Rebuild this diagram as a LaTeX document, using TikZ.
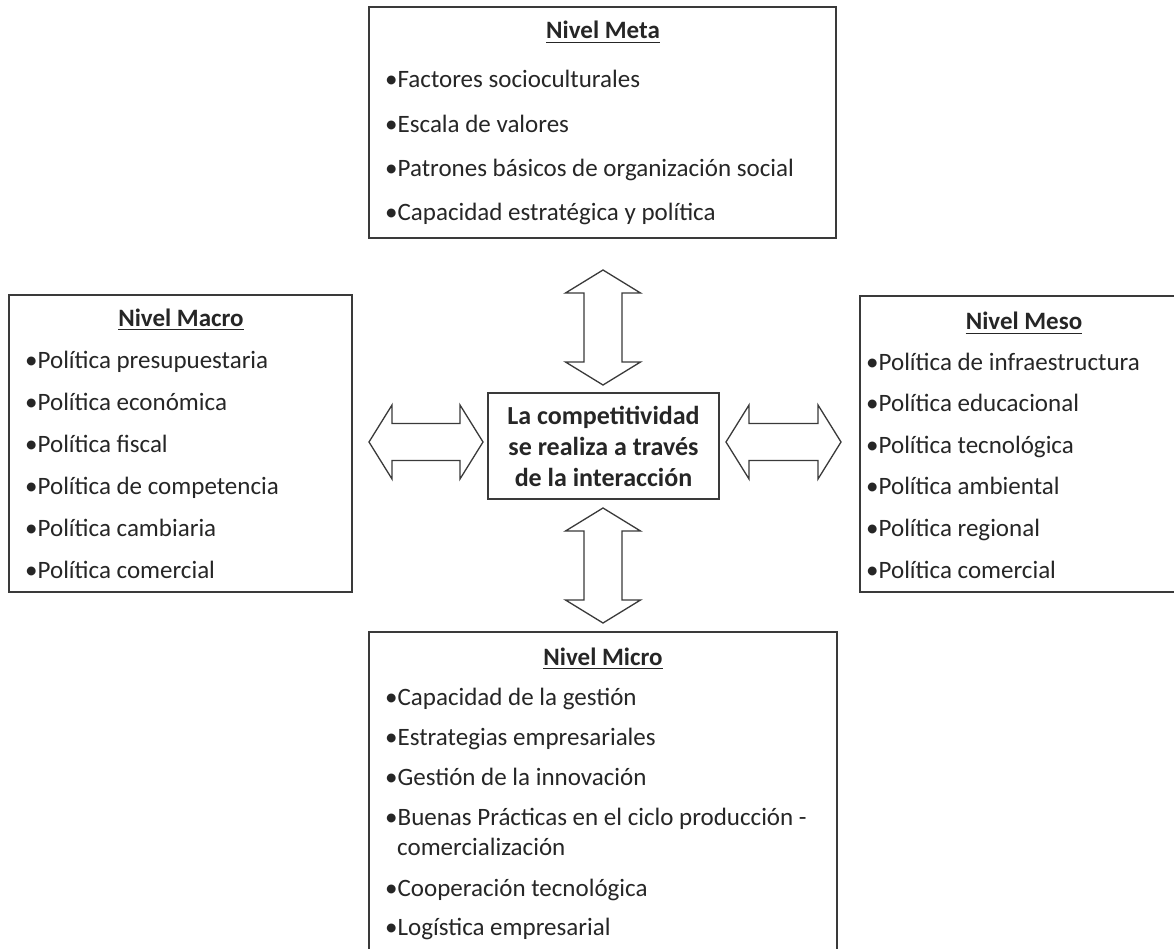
\documentclass[tikz,border=0pt]{standalone}
\usepackage{fontspec}
\setmainfont{Carlito}
\definecolor{ink}{HTML}{262626}
\definecolor{edge}{HTML}{3A3A3A}
% vertical double block arrow: centre x, top tip y, bottom tip y
\newcommand\vblock[3]{%
  \draw[blockarrow] (#1,#2) -- (#1+37.5,#2+23) -- (#1+19,#2+23) -- (#1+19,#3-23)
    -- (#1+37.5,#3-23) -- (#1,#3) -- (#1-37.5,#3-23) -- (#1-19,#3-23)
    -- (#1-19,#2+23) -- (#1-37.5,#2+23) -- cycle;}
% horizontal double block arrow: centre y, left tip x, right tip x
\newcommand\hblock[3]{%
  \draw[blockarrow] (#2,#1) -- (#2+23,#1-37) -- (#2+23,#1-18.5) -- (#3-23,#1-18.5)
    -- (#3-23,#1-37) -- (#3,#1) -- (#3-23,#1+37) -- (#3-23,#1+18.5)
    -- (#2+23,#1+18.5) -- (#2+23,#1+37) -- cycle;}
\begin{document}
\begin{tikzpicture}[x=1pt,y=-1pt,
  box/.style={draw=edge, line width=1.6pt, rectangle, inner sep=0pt},
  item/.style={anchor=base west, inner sep=0pt, text=ink, font=\fontsize{25}{30}\selectfont},
  head/.style={anchor=base, inner sep=0pt, text=ink, font=\fontsize{25}{30}\selectfont\bfseries},
  uline/.style={draw=ink, line width=1.6pt},
  blockarrow/.style={draw=edge, line width=1.3pt, line join=miter, fill=white}]
\useasboundingbox (0,0) rectangle (1174,949);
\clip (0,0) rectangle (1174,949);
\fill[white] (0,0) rectangle (1174,949);

% frames
\node[box, minimum width=467pt, minimum height=231pt] (meta)  at (602.5,122.5) {};
\node[box, minimum width=343pt, minimum height=297pt] (macro) at (180.5,443.5) {};
\node[box, minimum width=328pt, minimum height=296pt] (meso)  at (1024,444) {};
\node[box, minimum width=468pt, minimum height=368pt] (micro) at (603,816) {};
\node[box, minimum width=231pt, minimum height=106pt, align=center, text=ink,
      font=\fontsize{26}{31}\selectfont\bfseries] (core) at (603.5,446)
      {La competitividad\\se realiza a través\\de la interacción};

% interaction arrows
\vblock{603}{270}{385}
\vblock{603}{508}{623}
\hblock{442}{369}{483}
\hblock{442}{726}{841}

% Nivel Meta
\node[head] (metaT) at (603,39) {Nivel Meta};
\draw[uline] ([yshift=-3.5pt]metaT.base west) -- ([yshift=-3.5pt]metaT.base east);
\foreach \t [count=\i from 0] in {Factores socioculturales, Escala de valores,
    Patrones básicos de organización social, Capacidad estratégica y política}
  \node[item] (meta\i) at (385,88+44.3*\i) {•\t};

% Nivel Macro
\node[head] (macroT) at (181,326) {Nivel Macro};
\draw[uline] ([yshift=-3.5pt]macroT.base west) -- ([yshift=-3.5pt]macroT.base east);
\foreach \t [count=\i from 0] in {Política presupuestaria, Política económica,
    Política fiscal, Política de competencia, Política cambiaria, Política comercial}
  \node[item] (macro\i) at (25,368+42*\i) {•\t};

% Nivel Meso
\node[head] (mesoT) at (1024,330) {Nivel Meso};
\draw[uline] ([yshift=-3.5pt]mesoT.base west) -- ([yshift=-3.5pt]mesoT.base east);
\foreach \t [count=\i from 0] in {Política de infraestructura, Política educacional,
    Política tecnológica, Política ambiental, Política regional, Política comercial}
  \node[item] (meso\i) at (866,370+41.6*\i) {•\t};

% Nivel Micro
\node[head] (microT) at (603,665) {Nivel Micro};
\draw[uline] ([yshift=-3.5pt]microT.base west) -- ([yshift=-3.5pt]microT.base east);
\foreach \t [count=\i from 0] in {Capacidad de la gestión, Estrategias empresariales,
    Gestión de la innovación, Buenas Prácticas en el ciclo producción -}
  \node[item] (micro\i) at (385,705+40*\i) {•\t};
\node[item] (micro4) at (397,855) {comercialización};
\node[item] (micro5) at (385,896) {•Cooperación tecnológica};
\node[item] (micro6) at (385,935) {•Logística empresarial};
\end{tikzpicture}
\end{document}
